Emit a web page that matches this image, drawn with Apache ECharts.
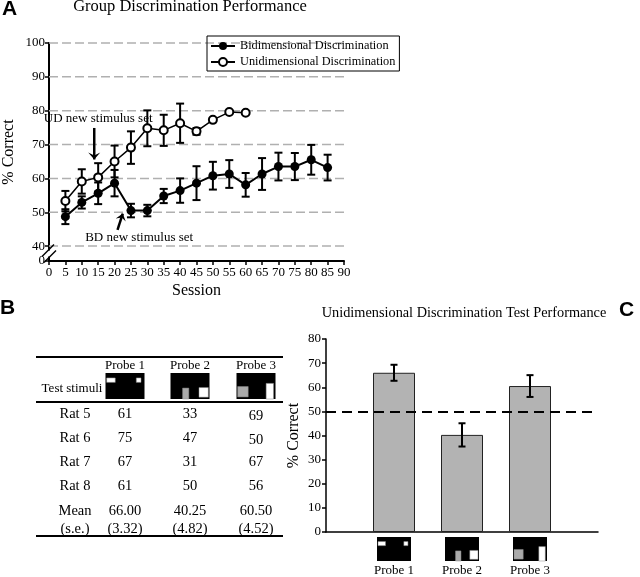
<!DOCTYPE html>
<html><head><meta charset="utf-8">
<script src="https://cdn.jsdelivr.net/npm/echarts@6/dist/echarts.min.js"></script>
<style>html,body{margin:0;padding:0;background:#fff}#c{width:640px;height:577px}</style>
</head><body><div id="c"></div>
<script>
// ---------- Panel A data ----------
const bdSessions = [5,10,15,20,25,30,35,40,45,50,55,60,65,70,75,80,85];
const bdMean = [48.7,52.9,55.6,58.6,50.5,50.5,54.8,56.4,58.6,60.8,61.3,58.1,61.3,63.5,63.5,65.5,63.2];
const bdErr  = [2.2,1.8,3.2,3.9,2.0,1.7,2.1,3.6,5.0,4.1,4.1,3.5,4.7,4.1,4.0,4.4,3.8];
const udSessions = [5,10,15,20,25,30,35,40,45,50,55,60];
const udMean = [53.3,59.1,60.3,65.0,69.1,74.8,74.2,76.3,73.9,77.3,79.6,79.4];
const udErr  = [3.0,3.6,4.2,4.7,4.8,5.3,4.6,5.8,1.0,0,0,0];
const yLabelsA = [40,50,60,70,80,90,100];
const gridValuesA = [40,50,60,70,80,90,100];
// ---------- Panel B / C data ----------
const probeNames = ['Probe 1','Probe 2','Probe 3'];
const ratNames = ['Rat 5','Rat 6','Rat 7','Rat 8'];
const ratScores = [[61,33,69],[75,47,50],[67,31,67],[61,50,56]];
const meanScores = [66.00,40.25,60.50];
const seScores = [3.32,4.82,4.52];
const chanceLevel = 50;

const SERIF = '"Liberation Serif","DejaVu Serif",serif';
const SANS = '"Liberation Sans","DejaVu Sans",sans-serif';
const Y_MIN_A = 35.6;

const chart = echarts.init(document.getElementById('c'), null, {renderer:'canvas'});

function errRender(capHalf, lw){
  return function(params, api){
    const x = api.value(0), lo = api.value(1), hi = api.value(2);
    if (hi - lo <= 0) return null;
    const p1 = api.coord([x, hi]), p2 = api.coord([x, lo]);
    const st = {stroke:'#000', lineWidth:lw};
    return {type:'group', children:[
      {type:'line', shape:{x1:p1[0],y1:p1[1],x2:p2[0],y2:p2[1]}, style:st},
      {type:'line', shape:{x1:p1[0]-capHalf,y1:p1[1],x2:p1[0]+capHalf,y2:p1[1]}, style:st},
      {type:'line', shape:{x1:p2[0]-capHalf,y1:p2[1],x2:p2[0]+capHalf,y2:p2[1]}, style:st}
    ]};
  };
}

const txt = {fontFamily:SERIF, color:'#000'};

const option = {
  animation:false,
  backgroundColor:'#fff',
  grid:[
    {left:43, top:43, width:301, height:218},
    {left:326, top:339, width:272, height:195}
  ],
  legend:{
    data:['Bidimensional Discrimination','Unidimensional Discrimination'],
    orient:'vertical', left:207, top:36,
    borderColor:'#000', borderWidth:1, padding:[4,4,3,3],
    itemGap:4, itemWidth:24, itemHeight:10,
    textStyle:{fontFamily:SERIF, fontSize:12.3, color:'#000'}
  },
  xAxis:[
    {gridIndex:0, type:'value', min:0, max:90, interval:5,
     axisLine:{lineStyle:{color:'#000', width:2}},
     axisTick:{show:true, length:4, lineStyle:{color:'#000', width:1.5}},
     axisLabel:{...txt, fontSize:13, margin:5},
     splitLine:{show:false},
     name:'Session', nameLocation:'middle', nameGap:22,
     nameTextStyle:{...txt, fontSize:16}},
    {gridIndex:1, type:'category', data:['', ...probeNames, ''], boundaryGap:false,
     axisLine:{lineStyle:{color:'#000', width:1.5}},
     axisTick:{show:false},
     axisLabel:{...txt, fontSize:13, margin:32, interval:0}}
  ],
  yAxis:[
    {gridIndex:0, type:'value', min:Y_MIN_A, max:100,
     axisLine:{show:true, lineStyle:{color:'#000', width:2}},
     axisTick:{show:true, length:4, customValues:[Y_MIN_A, ...yLabelsA], lineStyle:{color:'#000', width:1.5}},
     axisLabel:{...txt, fontSize:13, margin:4, customValues:[Y_MIN_A, ...yLabelsA],
       formatter: v => (v < 39 ? '0' : String(Math.round(v)))},
     splitLine:{show:false},
     name:'% Correct', nameLocation:'middle', nameGap:32,
     nameTextStyle:{...txt, fontSize:16}},
    {gridIndex:1, type:'value', min:0, max:80, interval:10,
     axisLine:{show:true, lineStyle:{color:'#000', width:1.5}},
     axisTick:{show:true, length:4, lineStyle:{color:'#000', width:1.5}},
     axisLabel:{...txt, fontSize:13, margin:5},
     splitLine:{show:false},
     name:'% Correct', nameLocation:'middle', nameGap:24,
     nameTextStyle:{...txt, fontSize:16}}
  ],
  series:[
    {type:'custom', name:'grid', xAxisIndex:0, yAxisIndex:0, silent:true, z:1,
     data: gridValuesA.map(v => [0, v]),
     renderItem:(params, api) => {
       const cs = params.coordSys; const y = api.coord([0, api.value(1)])[1];
       return {type:'line', shape:{x1:cs.x, y1:y, x2:cs.x+cs.width, y2:y},
         style:{stroke:'#b0b0b0', lineWidth:1.5, lineDash:[9,4]}};
     }},
    {type:'custom', name:'bdErr', xAxisIndex:0, yAxisIndex:0, z:3,
     data: bdSessions.map((s,i) => [s, bdMean[i]-bdErr[i], bdMean[i]+bdErr[i]]),
     renderItem: errRender(4, 2)},
    {type:'custom', name:'udErr', xAxisIndex:0, yAxisIndex:0, z:3,
     data: udSessions.map((s,i) => [s, udMean[i]-udErr[i], udMean[i]+udErr[i]]),
     renderItem: errRender(4, 2)},
    {type:'line', name:'Bidimensional Discrimination', xAxisIndex:0, yAxisIndex:0, z:4,
     data: bdSessions.map((s,i) => [s, bdMean[i]]),
     symbol:'circle', symbolSize:9, color:'#000',
     lineStyle:{color:'#000', width:2}, itemStyle:{color:'#000'}},
    {type:'line', name:'Unidimensional Discrimination', xAxisIndex:0, yAxisIndex:0, z:5,
     data: udSessions.map((s,i) => [s, udMean[i]]),
     symbol:'emptyCircle', symbolSize:8, color:'#000',
     lineStyle:{color:'#000', width:1.5}, itemStyle:{color:'#000', borderWidth:1.5}},
    {type:'bar', name:'testMean', xAxisIndex:1, yAxisIndex:1, z:2,
     data: probeNames.map((p,i) => [p, meanScores[i]]),
     barWidth:42,
     itemStyle:{color:'#b3b3b3', borderColor:'#222', borderWidth:1},
     markLine:{silent:true, symbol:'none', label:{show:false},
       lineStyle:{color:'#000', type:[10,6], width:2},
       data:[{yAxis:chanceLevel}]}},
    {type:'custom', name:'testErr', xAxisIndex:1, yAxisIndex:1, z:4,
     data: probeNames.map((p,i) => [i+1, meanScores[i]-seScores[i], meanScores[i]+seScores[i]]),
     renderItem: errRender(3.5, 2)}
  ]
};
chart.setOption(option);

// ---------- graphics: titles, annotations, table, stimuli ----------
const P = (x, y) => chart.convertToPixel({gridIndex:0}, [x, y]);

function stimulus(kind, x, y, w, h){
  const kids = [{type:'rect', shape:{x:0,y:0,width:w,height:h}, style:{fill:'#000'}}];
  const r = (fx, fy, fw, fh, fill) => kids.push({type:'rect',
    shape:{x:fx*w, y:fy*h, width:fw*w, height:fh*h}, style:{fill, stroke:'#888', lineWidth:0.5}});
  if (kind === 0){ r(0.03,0.19,0.22,0.17,'#fff'); r(0.79,0.19,0.12,0.17,'#fff'); }
  else if (kind === 1){ r(0.31,0.58,0.16,0.42,'#aaa'); r(0.73,0.56,0.24,0.37,'#fff'); }
  else { r(0.03,0.52,0.27,0.40,'#aaa'); r(0.76,0.40,0.19,0.60,'#fff'); }
  return {type:'group', x, y, z:100, children:kids};
}

const T = (text, x, y, size, extra) => ({type:'text', x, y, z:100,
  style:Object.assign({text, fontFamily:SERIF, fontSize:size, fill:'#000', textAlign:'center', textVerticalAlign:'middle'}, extra||{})});

const g = [];
// Panel letters and titles
g.push(T('A', 2, 9, 21, {fontFamily:SANS, fontWeight:'bold', textAlign:'left'}));
g.push(T('B', 0, 308, 21, {fontFamily:SANS, fontWeight:'bold', textAlign:'left'}));
g.push(T('C', 619, 310, 21, {fontFamily:SANS, fontWeight:'bold', textAlign:'left'}));
g.push(T('Group Discrimination Performance', 190, 7, 16.5));
g.push(T('Unidimensional Discrimination Test Performance', 464, 313, 14.3));

// Annotations
const udT = P(15, 77.8); g.push(T('UD new stimulus set', udT[0], udT[1], 13));
const bdT = P(27.5, 42.4); g.push(T('BD new stimulus set', bdT[0], bdT[1], 13));
const a1s = P(13.8, 74.9), a1e = P(13.8, 65.6);
g.push({type:'line', z:100, shape:{x1:a1s[0],y1:a1s[1],x2:a1e[0],y2:a1e[1]}, style:{stroke:'#000', lineWidth:2.5}});
g.push({type:'polygon', z:100, shape:{points:[[a1e[0]-6,a1e[1]-7],[a1e[0],a1e[1]],[a1e[0]+6,a1e[1]-7],[a1e[0],a1e[1]-4]]}, style:{fill:'#000'}});
const a2s = P(20.9, 44.8), a2e = P(22.5, 49.6);
g.push({type:'line', z:100, shape:{x1:a2s[0],y1:a2s[1],x2:a2e[0],y2:a2e[1]}, style:{stroke:'#000', lineWidth:2.5}});
g.push({type:'polygon', z:100, shape:{points:[[a2e[0]-7,a2e[1]+5],[a2e[0],a2e[1]],[a2e[0]+3,a2e[1]+8],[a2e[0]-1,a2e[1]+4]]}, style:{fill:'#000'}});

// Axis break on A's y axis
const bk = P(0, 37.8);
g.push({type:'rect', z:100, shape:{x:bk[0]-3, y:bk[1]-3, width:6, height:6}, style:{fill:'#fff'}});
g.push({type:'line', z:101, shape:{x1:bk[0]-7,y1:bk[1]+3,x2:bk[0]+5,y2:bk[1]-9}, style:{stroke:'#000', lineWidth:1.5}});
g.push({type:'line', z:101, shape:{x1:bk[0]-5,y1:bk[1]+9,x2:bk[0]+7,y2:bk[1]-3}, style:{stroke:'#000', lineWidth:1.5}});

// Table (panel B)
const colX = [125, 190, 256];
const rowY = [414, 438, 462, 486];
g.push({type:'rect', z:100, shape:{x:36, y:356, width:247, height:2}, style:{fill:'#000'}});
g.push({type:'rect', z:100, shape:{x:36, y:401, width:247, height:2}, style:{fill:'#000'}});
g.push({type:'rect', z:100, shape:{x:36, y:535, width:247, height:2}, style:{fill:'#000'}});
g.push(T('Test stimuli', 72, 389, 13));
probeNames.forEach((p, j) => {
  g.push(T(p, colX[j], 366, 13));
  g.push(stimulus(j, colX[j]-19.5, 373, 39, 26));
});
ratNames.forEach((r, i) => {
  g.push(T(r, 75, rowY[i], 14.5));
  ratScores[i].forEach((v, j) => g.push(T(String(v), colX[j], rowY[i] + (j === 2 && i < 2 ? 2 : 0), 14.5)));
});
g.push(T('Mean', 75, 511, 14.5));
g.push(T('(s.e.)', 75, 529, 14.5));
meanScores.forEach((m, j) => {
  g.push(T(m.toFixed(2), colX[j], 511, 14.5));
  g.push(T('(' + seScores[j].toFixed(2) + ')', colX[j], 529, 14.5));
});

// Stimuli under panel C bars
probeNames.forEach((p, j) => {
  const cx = chart.convertToPixel({xAxisIndex:1}, p);
  g.push(stimulus(j, cx - 17, 537, 34, 24));
});

chart.setOption({graphic:{elements:g}});
</script>
</body></html>
